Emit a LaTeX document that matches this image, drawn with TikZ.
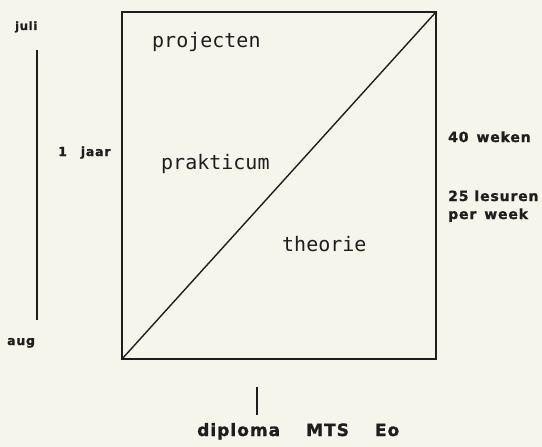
\documentclass[tikz,border=0pt]{standalone}
\usepackage{fontspec}
\newfontfamily\boxfont{DejaVu Sans Mono}
\newfontfamily\sidefont[LetterSpace=6,FakeBold=1.2]{DejaVu Sans Bold}
\definecolor{paper}{HTML}{F5F5EC}
\definecolor{ink}{HTML}{1E1E1E}
\begin{document}
\begin{tikzpicture}[x=1pt,y=-1pt,
  boxlabel/.style={anchor=base west,inner sep=0pt,text=ink,font=\boxfont\fontsize{20}{20}\selectfont},
  sidelabel/.style={anchor=base west,inner sep=0pt,text=ink,font=\sidefont\fontsize{#1}{#1}\selectfont},
  frame/.style={draw=ink,line width=1.4pt},
  thin/.style={draw=ink,line width=1.3pt}]
\fill[paper] (0,0) rectangle (542,447);
\useasboundingbox (0,0) rectangle (542,447);
% box and diagonal
\coordinate (bl) at (122,359);
\coordinate (tr) at (436,12);
\draw[frame] (bl) rectangle (tr);
\draw[frame] (bl) -- (tr);
% labels inside
\node[boxlabel] (proj) at (152,47) {projecten};
\node[boxlabel] (prak) at (161,169) {prakticum};
\node[boxlabel] (theo) at (282,251) {theorie};
% left time axis
\coordinate (ytop) at (37,50);
\coordinate (ybot) at (37,320);
\draw[thin] (ytop) -- (ybot);
\node[sidelabel=11.5] (juli) at (15,30) {juli};
\node[sidelabel=12.5] (jaar) at (58,156) {1\hspace{14pt}jaar};
\node[sidelabel=12.5] (aug) at (7,345) {aug};
% right labels
\node[sidelabel=14] (weken) at (448,142) {40\hspace{8pt}weken};
\node[sidelabel=14] (lesuren) at (448,201) {25\hspace{6pt}lesuren};
\node[sidelabel=14] (week) at (448,219) {per\hspace{8pt}week};
% diploma
\coordinate (ttop) at (257,387);
\coordinate (tbot) at (257,415);
\draw[thin] (ttop) -- (tbot);
\node[sidelabel=17] (dipl) at (197,436) {diploma\hspace{26pt}MTS\hspace{26pt}Eo};
\end{tikzpicture}
\end{document}
